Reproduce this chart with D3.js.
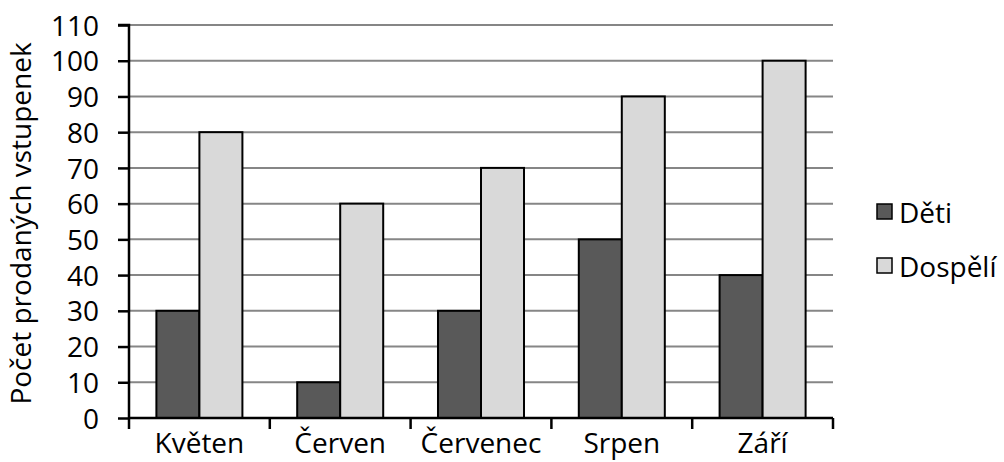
<!DOCTYPE html>
<html><head><meta charset="utf-8">
<script src="https://cdn.jsdelivr.net/npm/d3@7"></script>
<style>body{margin:0;background:#fff}svg{display:block}text{font-family:"Open Sans",sans-serif;fill:#000}</style>
</head><body><svg id="c" width="1004" height="462"></svg>
<script>
const categories = ["Květen","Červen","Červenec","Srpen","Září"];
const seriesNames = ["Děti","Dospělí"];
const deti = [30,10,30,50,40];
const dospeli = [80,60,70,90,100];
const yTicks = [0,10,20,30,40,50,60,70,80,90,100,110];
const colors = ["#595959","#d9d9d9"];
const yTitle = "Počet prodaných vstupenek";

const svg = d3.select("#c");
const L=129, R=833, T=25, B=418;
const x = d3.scaleBand().domain(categories).range([L,R]);
const xs = d3.scaleBand().domain(seriesNames).range([0,x.bandwidth()]).paddingOuter(0.637).paddingInner(0);
const y = d3.scaleLinear().domain([0,110]).range([B,T]);
const fs = 28;

// gridlines
svg.append("g").selectAll("line").data(yTicks.filter(d=>d>0)).join("line")
  .attr("x1",L).attr("x2",R).attr("y1",d=>y(d)).attr("y2",d=>y(d))
  .attr("stroke","#868686").attr("stroke-width",2);

// bars
const series=[deti,dospeli];
seriesNames.forEach((s,si)=>{
  svg.append("g").selectAll("rect").data(categories).join("rect")
    .attr("x",c=>x(c)+xs(s)).attr("width",xs.bandwidth())
    .attr("y",(c,i)=>y(series[si][i])).attr("height",(c,i)=>B-y(series[si][i]))
    .attr("fill",colors[si]).attr("stroke","#000").attr("stroke-width",2);
});

// y axis
const ya = svg.append("g").attr("transform",`translate(${L},0)`)
  .call(d3.axisLeft(y).tickValues(yTicks).tickSize(11).tickPadding(19).tickFormat(d3.format("d")));
ya.select(".domain").attr("stroke","#000").attr("stroke-width",2.5).attr("d",`M-11,${T}H0V${B}`);
ya.selectAll(".tick line").attr("stroke","#000").attr("stroke-width",2.5);
ya.selectAll("text").style("font-size",fs+"px").attr("font-family","Open Sans").attr("dy","0.36em").attr("fill","#000");

// x axis
const xa = svg.append("g").attr("transform",`translate(0,${B})`)
  .call(d3.axisBottom(x).tickSize(0).tickPadding(0));
xa.select(".domain").attr("stroke","#000").attr("stroke-width",2.5).attr("d",`M${L},0H${R}`);
xa.selectAll("text").style("font-size",fs+"px").attr("font-family","Open Sans").attr("fill","#000")
  .attr("dy",null).attr("y",35);
svg.append("g").selectAll("line").data(d3.range(categories.length+1)).join("line")
  .attr("x1",i=>L+i*x.step()).attr("x2",i=>L+i*x.step())
  .attr("y1",B).attr("y2",B+11).attr("stroke","#000").attr("stroke-width",2.5);

// y title
svg.append("text").attr("transform",`translate(31,${(T+B)/2+2}) rotate(-90)`)
  .attr("text-anchor","middle").style("font-size",fs+"px").text(yTitle);

// legend
const lg = svg.append("g");
seriesNames.forEach((s,i)=>{
  const yy = 204 + i*54;
  lg.append("rect").attr("x",877).attr("y",yy).attr("width",15).attr("height",15)
    .attr("fill",colors[i]).attr("stroke","#000").attr("stroke-width",1.5);
  lg.append("text").attr("x",899).attr("y",yy+19).style("font-size",fs+"px").text(s);
});
</script></body></html>
